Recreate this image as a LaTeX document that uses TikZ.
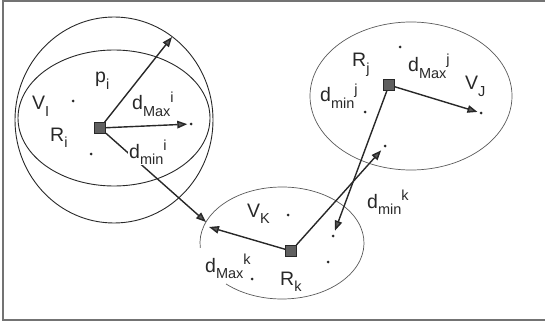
\documentclass[tikz,border=0pt]{standalone}
\usepackage{fontspec}
\setmainfont{Liberation Sans}
\usetikzlibrary{arrows.meta}
\definecolor{inkgrey}{RGB}{40,40,40}
\definecolor{sqfill}{RGB}{95,95,95}
\definecolor{tipfill}{RGB}{90,90,90}
\newcommand\lsub[1]{\raisebox{-0.32em}{\fontsize{14.5}{16}\selectfont #1}}
\newcommand\lsup[1]{\raisebox{0.36em}{\fontsize{14.5}{16}\selectfont #1}}
\tikzset{
  lab/.style={font=\fontsize{19.5}{21}\selectfont,text=inkgrey,inner sep=0pt,anchor=base west},
  refsq/.style={draw=inkgrey,fill=sqfill,minimum size=11pt,inner sep=0pt,line width=0.8pt},
  pt/.style={circle,fill=inkgrey,inner sep=0pt,minimum size=3pt},
  link/.style={-{Triangle[length=10pt,width=7.5pt,fill=tipfill]},line width=1.4pt,draw=inkgrey},
  region/.style={draw=inkgrey,line width=0.9pt},
  thinregion/.style={draw=black!65,line width=0.7pt},
  framel/.style={draw=black!55,line width=1.2pt}
}
\begin{document}
\begin{tikzpicture}[x=1pt,y=-1pt]
  \useasboundingbox (0,0) rectangle (545,326);
  % frame
  \draw[framel] (545,1) -- (3,1) -- (3,320) -- (545,320);
  % region i
  \draw[region] (114,120) ellipse [x radius=99,y radius=103];
  \draw[region] (114,118) ellipse [x radius=96,y radius=68];
  % region j
  \draw[thinregion] (411,96) ellipse [x radius=101,y radius=74];
  % region k, open at lower left
  \draw[thinregion] (282,243) ++(175:82 and 56) arc[start angle=175,end angle=493,x radius=82,y radius=56];
  % reference squares
  \node[refsq] (Ri) at (100,128) {};
  \node[refsq] (Rj) at (389,85) {};
  \node[refsq] (Rk) at (291,251) {};
  % points
  \node[pt] (dotIa) at (73,101) {};
  \node[pt] (dotIb) at (91,154) {};
  \node[pt] (dotIr) at (191,124) {};
  \node[pt] (dotJa) at (400,47) {};
  \node[pt] (dotJb) at (365,112) {};
  \node[pt] (dotJr) at (481,113) {};
  \node[pt] (dotJc) at (385,146) {};
  \node[pt] (dotKa) at (288,215) {};
  \node[pt] (dotKb) at (333,236) {};
  \node[pt] (dotKc) at (328,262) {};
  \node[pt] (dotKd) at (252,279) {};
  \coordinate (itop) at (172,37);
  \coordinate (kleftA) at (206,222);
  \coordinate (kleftB) at (209,227);
  % distance arrows
  \draw[link] (Ri) -- (itop);
  \draw[link,shorten >=2pt] (Ri) -- (dotIr);
  \draw[link] (Ri) -- (kleftA);
  \draw[link,shorten >=2pt] (Rj) -- (dotJr);
  \draw[link] (Rk) -- (kleftB);
  \draw[link,shorten >=4pt] (Rk) -- (dotJc);
  \draw[link,shorten >=4pt] (Rj) -- (dotKb);
  % labels
  \node[lab] (pI) at (95,83) {p\lsub{i}};
  \node[lab] (VI) at (32,110) {V\lsub{I}};
  \node[lab] (RI) at (50,141) {R\lsub{i}};
  \node[lab] (dMaxI) at (132,110) {d\lsub{Max}\lsup{i}};
  \node[lab,fill=white,inner sep=1pt] (dminI) at (128,158) {d\lsub{min}\lsup{i}};
  \node[lab] (RJ) at (352,67) {R\lsub{j}};
  \node[lab] (dMaxJ) at (408,72) {d\lsub{Max}\lsup{j}};
  \node[lab] (VJ) at (465,90) {V\lsub{J}};
  \node[lab] (dminJ) at (320,102) {d\lsub{min}\lsup{j}};
  \node[lab] (VK) at (247,217) {V\lsub{K}};
  \node[lab] (dMaxK) at (205,272) {d\lsub{Max}\lsup{k}};
  \node[lab] (RK) at (280,285) {R\lsub{k}};
  \node[lab] (dminK) at (367,208) {d\lsub{min}\lsup{k}};
\end{tikzpicture}
\end{document}
